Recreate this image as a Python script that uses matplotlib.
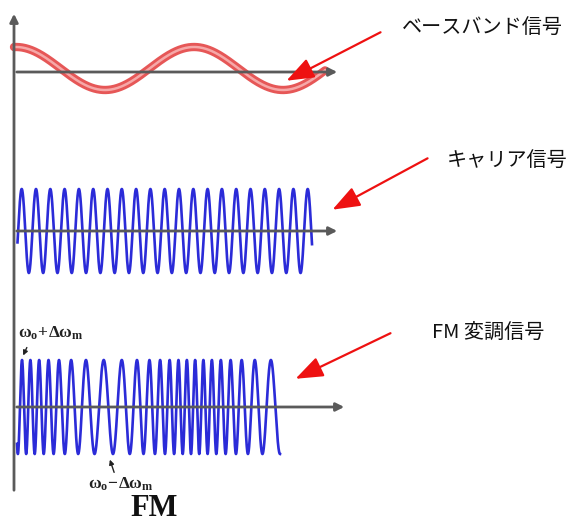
import numpy as np
import matplotlib
matplotlib.use("Agg")
import matplotlib.pyplot as plt

plt.rcParams['font.family'] = ['Noto Sans CJK JP', 'DejaVu Sans']
plt.rcParams['mathtext.fontset'] = 'custom'
plt.rcParams['mathtext.rm'] = 'Liberation Serif'
plt.rcParams['mathtext.it'] = 'Liberation Serif:italic'
plt.rcParams['mathtext.bf'] = 'Liberation Serif:bold'

# --- values (x in pixels of the drawing) ---
# baseband signal (red)
bb_span = [14, 325]
bb_period = 178
bb_peak_x = 16
bb_amp = 21.5
bb_level = 68.5

# carrier (blue)
car_span = [17.5, 312]
car_period = 14.3
car_peak_x = 21.7
car_amp = 42
car_level = 231

# FM signal (blue)
fm_span = [17, 280]
fm_f0 = 0.0876
fm_df = 0.034
fm_peak_x = 22
fm_amp = 47
fm_level = 407

axis_levels = [72, 231, 407]
axis_ends = [340, 340, 347]

labels = ['ベースバンド信号', 'キャリア信号', 'FM 変調信号']
label_pos = [(402, 27), (447, 160), (432, 332)]
arrow_tails = [(383, 31), (430, 157), (393, 332)]
arrow_heads = [(284, 82), (330, 211), (293, 380)]

fig = plt.figure(figsize=(5.7, 5.24), dpi=100)
ax = fig.add_axes([0, 0, 1, 1])
ax.set_xlim(0, 570)
ax.set_ylim(524, 0)
ax.axis('off')

# axes of the diagram
ax.annotate('', xy=(14, 11), xytext=(14, 493),
            arrowprops=dict(arrowstyle='-|>', color='#5a5a5a', lw=2, mutation_scale=12))
for lv, xe in zip(axis_levels, axis_ends):
    ax.annotate('', xy=(xe, lv), xytext=(14, lv),
                arrowprops=dict(arrowstyle='-|>', color='#5a5a5a', lw=2, mutation_scale=12))

# baseband
x = np.linspace(bb_span[0], bb_span[1], 800)
bb = np.cos(2 * np.pi * (x - bb_peak_x) / bb_period)
y = bb_level - bb_amp * bb
ax.plot(x, y, color='#e23a3a', lw=6, alpha=0.85, solid_capstyle='round')
ax.plot(x, y, color='#f6a8a8', lw=1.8)

# carrier
x = np.linspace(car_span[0], car_span[1], 3000)
y = car_level - car_amp * np.cos(2 * np.pi * (x - car_peak_x) / car_period)
ax.plot(x, y, color='#2b2bd8', lw=1.9)

# FM: frequency follows the baseband
x = np.linspace(fm_span[0], fm_span[1], 3000)
k = fm_df * bb_period
ph = 2 * np.pi * fm_f0 * (x - fm_peak_x) + k * (np.sin(2 * np.pi * (x - bb_peak_x) / bb_period)
                                                 - np.sin(2 * np.pi * (fm_peak_x - bb_peak_x) / bb_period))
y = fm_level - fm_amp * np.cos(ph)
ax.plot(x, y, color='#2b2bd8', lw=1.9)

# annotations on FM
ax.text(18, 333, r'$\mathbf{\omega_o\!+\!\Delta\omega_m}$', fontsize=12.5, va='center', ha='left', color='#222')
ax.annotate('', xy=(22, 358), xytext=(28, 345),
            arrowprops=dict(arrowstyle='-|>', color='#222', lw=1, mutation_scale=7))
ax.text(88, 484, r'$\mathbf{\omega_o\!-\!\Delta\omega_m}$', fontsize=12.5, va='center', ha='left', color='#222')
ax.annotate('', xy=(109, 457), xytext=(115, 475),
            arrowprops=dict(arrowstyle='-|>', color='#222', lw=1, mutation_scale=7))
ax.text(154, 516, 'FM', fontsize=22, fontweight='bold', family='Liberation Serif',
        ha='center', va='baseline', color='#111')

# labels and red arrows
for s, p in zip(labels, label_pos):
    ax.text(p[0], p[1], s, fontsize=14.5, ha='left', va='center', color='#111')
for t, h in zip(arrow_tails, arrow_heads):
    ax.annotate('', xy=h, xytext=t,
                arrowprops=dict(arrowstyle='-|>,head_length=1.2,head_width=0.45',
                                color='#ee1111', lw=1.6, mutation_scale=14))

fig.savefig('out.png', dpi=100)
